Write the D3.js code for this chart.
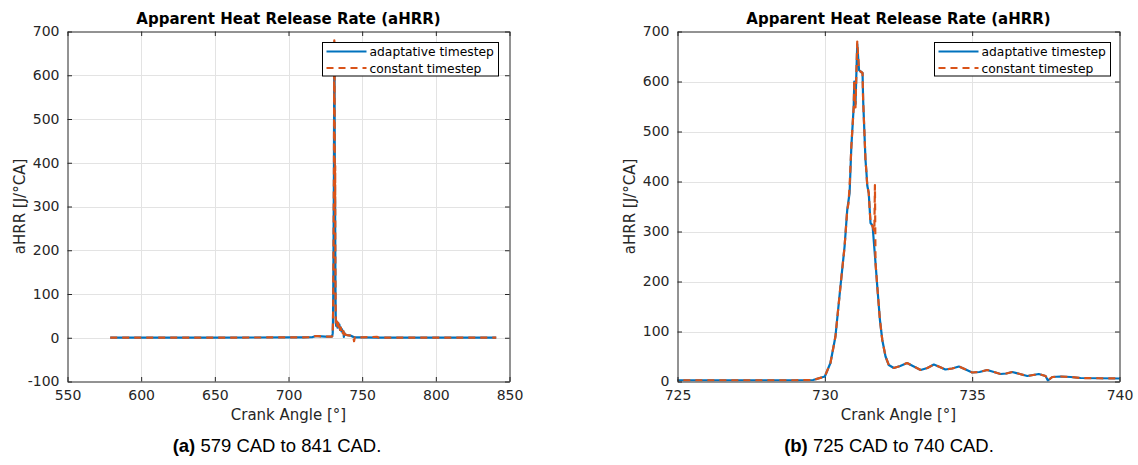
<!DOCTYPE html>
<html>
<head>
<meta charset="utf-8">
<script src="https://cdn.jsdelivr.net/npm/d3@7"></script>
<style>
  html, body { margin: 0; padding: 0; background: #fff; }
  svg { display: block; }
</style>
</head>
<body>
<svg id="chart" width="1138" height="465"></svg>
<script>
// Apparent heat release rate, adaptive timestep run
const adaptiveAngle = [579, 600, 650, 700, 710, 716, 718, 720, 725, 727, 729, 729.6, 730.0, 730.19, 730.36, 730.53, 730.67, 730.76, 730.80, 730.84, 730.90, 730.98, 731.0, 731.04, 731.10, 731.16, 731.21, 731.28, 731.30, 731.38, 731.41, 731.44, 731.49, 731.55, 731.62, 731.72, 731.78, 731.87, 731.95, 732.06, 732.17, 732.34, 732.56, 732.79, 733.02, 733.25, 733.48, 733.70, 733.90, 734.09, 734.32, 734.55, 734.78, 735.0, 735.25, 735.51, 735.74, 735.96, 736.16, 736.36, 736.62, 736.87, 737.07, 737.26, 737.49, 737.57, 737.72, 738.0, 738.34, 738.68, 739.3, 740, 742, 744, 745, 750, 760, 780, 800, 841];
const adaptiveHRR = [0.3, 0.3, 0.3, 0.8, 1, 1.2, 3.5, 3.5, 2.5, 2.5, 2.5, 3, 10, 37, 90, 190, 270, 343, 360, 377, 470, 550, 600, 555, 675, 623, 620, 617, 563, 443, 420, 392, 377, 317, 312, 237, 190, 123, 83, 50, 33, 27, 31, 37, 30, 23, 27, 34, 29, 24, 26, 30, 24, 18, 19, 23, 19, 15, 16, 19, 15, 11, 13, 15, 11, 2, 9, 10, 9, 7, 6.5, 6, 5, 2, 1, 1, 0.5, 0.3, 0.3, 0.3];

// Apparent heat release rate, constant timestep run
const constantAngle = [579, 600, 650, 700, 710, 716, 718, 720, 725, 727, 729, 729.6, 730.0, 730.19, 730.36, 730.53, 730.67, 730.76, 730.80, 730.84, 730.90, 730.98, 731.0, 731.04, 731.10, 731.16, 731.21, 731.28, 731.30, 731.38, 731.41, 731.44, 731.49, 731.55, 731.62, 731.68, 731.70, 731.72, 731.78, 731.87, 731.95, 732.06, 732.17, 732.34, 732.56, 732.79, 733.02, 733.25, 733.48, 733.70, 733.90, 734.09, 734.32, 734.55, 734.78, 735.0, 735.25, 735.51, 735.74, 735.96, 736.16, 736.36, 736.62, 736.87, 737.07, 737.26, 737.49, 737.57, 737.72, 738.0, 738.34, 738.68, 739.3, 740, 742, 744, 744.5, 745, 750, 760, 761, 780, 800, 841];
const constantHRR = [0.3, 0.3, 0.3, 0.8, 1, 1.2, 3.5, 3.5, 2.5, 2.5, 2.5, 3, 10, 37, 90, 190, 270, 343, 355, 390, 470, 550, 603, 548, 680, 623, 620, 617, 563, 443, 420, 392, 377, 317, 310, 300, 393, 237, 190, 123, 83, 50, 33, 27, 31, 37, 30, 23, 27, 34, 29, 24, 26, 30, 24, 18, 19, 23, 19, 15, 16, 19, 15, 11, 13, 15, 11, 2, 9, 10, 9, 7, 6.5, 6, 5, 2, -8, 1, 1, 2, 0.5, 0.3, 0.3, 0.3];

const seriesNames = ["adaptative timestep", "constant timestep"];
const seriesColors = ["#0072BD", "#D95319"];

// Axis ranges and tick values for the two views
const fullTicksX = [550, 600, 650, 700, 750, 800, 850];
const fullTicksY = [-100, 0, 100, 200, 300, 400, 500, 600, 700];
const zoomTicksX = [725, 730, 735, 740];
const zoomTicksY = [0, 100, 200, 300, 400, 500, 600, 700];

const titleText = "Apparent Heat Release Rate (aHRR)";
const xLabelText = "Crank Angle [°]";
const yLabelText = "aHRR [J/°CA]";

const panels = [
  { id: "a", left: 67.5, right: 509.5, xDomain: [550, 850], yDomain: [-100, 700],
    xTicks: fullTicksX, yTicks: fullTicksY, legendX: 322.5,
    captionX: 277, tag: "(a)", caption: " 579 CAD to 841 CAD." },
  { id: "b", left: 677.5, right: 1119.5, xDomain: [725, 740], yDomain: [0, 700],
    xTicks: zoomTicksX, yTicks: zoomTicksY, legendX: 934.5,
    captionX: 889, tag: "(b)", caption: " 725 CAD to 740 CAD." }
];

const plotTop = 31.5, plotBottom = 381.5;
const svg = d3.select("#chart");
const axisColor = "#262626";
const font = "'DejaVu Sans', sans-serif";
const dash = "7,5";

const seriesData = [
  adaptiveAngle.map((a, i) => [a, adaptiveHRR[i]]),
  constantAngle.map((a, i) => [a, constantHRR[i]])
];

panels.forEach(p => {
  const x = d3.scaleLinear().domain(p.xDomain).range([p.left, p.right]);
  const y = d3.scaleLinear().domain(p.yDomain).range([plotBottom, plotTop]);
  const g = svg.append("g");

  // grid
  g.append("g").selectAll("line").data(p.xTicks.slice(1, -1)).join("line")
    .attr("x1", d => Math.round(x(d)) + 0.5).attr("x2", d => Math.round(x(d)) + 0.5)
    .attr("y1", plotTop).attr("y2", plotBottom)
    .attr("stroke", "#e3e3e3").attr("stroke-width", 1);
  g.append("g").selectAll("line").data(p.yTicks.slice(1, -1)).join("line")
    .attr("y1", d => Math.round(y(d)) + 0.5).attr("y2", d => Math.round(y(d)) + 0.5)
    .attr("x1", p.left).attr("x2", p.right)
    .attr("stroke", "#e3e3e3").attr("stroke-width", 1);

  // data lines, clipped to the plot box
  const clipId = "clip-" + p.id;
  svg.append("clipPath").attr("id", clipId).append("rect")
    .attr("x", p.left).attr("y", plotTop).attr("width", p.right - p.left).attr("height", plotBottom - plotTop);
  const line = d3.line().x(d => x(d[0])).y(d => y(d[1]));
  const plot = g.append("g").attr("clip-path", `url(#${clipId})`);
  seriesData.forEach((data, i) => {
    plot.append("path").datum(data)
      .attr("d", line)
      .attr("fill", "none")
      .attr("stroke", seriesColors[i])
      .attr("stroke-width", 2.2)
      .attr("stroke-linejoin", "round")
      .attr("stroke-dasharray", i === 1 ? dash : null);
  });

  // box and inward ticks on all sides
  const tickLen = 4.5;
  const fmt = d => String(d);
  const xAxisB = d3.axisBottom(x).tickValues(p.xTicks).tickSize(-tickLen).tickSizeOuter(0).tickPadding(9).tickFormat(fmt);
  const xAxisT = d3.axisTop(x).tickValues(p.xTicks).tickSize(-tickLen).tickSizeOuter(0).tickFormat("");
  const yAxisL = d3.axisLeft(y).tickValues(p.yTicks).tickSize(-tickLen).tickSizeOuter(0).tickPadding(8).tickFormat(fmt);
  const yAxisR = d3.axisRight(y).tickValues(p.yTicks).tickSize(-tickLen).tickSizeOuter(0).tickFormat("");

  const styleAxis = sel => {
    sel.select(".domain").attr("stroke", axisColor).attr("stroke-width", 1);
    sel.selectAll(".tick line").attr("stroke", axisColor).attr("stroke-width", 1);
    sel.selectAll(".tick text").attr("fill", axisColor)
      .style("font-family", font).style("font-size", "14px");
  };
  g.append("g").attr("transform", `translate(0,${plotBottom})`).call(xAxisB).call(styleAxis);
  g.append("g").attr("transform", `translate(0,${plotTop})`).call(xAxisT).call(styleAxis);
  g.append("g").attr("transform", `translate(${p.left},0)`).call(yAxisL).call(styleAxis);
  g.append("g").attr("transform", `translate(${p.right},0)`).call(yAxisR).call(styleAxis);

  // title and axis labels
  const cx = (p.left + p.right) / 2;
  g.append("text").attr("x", cx).attr("y", 24).attr("text-anchor", "middle")
    .style("font-family", font).style("font-size", "15px").style("font-weight", "bold")
    .attr("fill", "#000").text(titleText);
  g.append("text").attr("x", cx).attr("y", 420).attr("text-anchor", "middle")
    .style("font-family", font).style("font-size", "15px")
    .attr("fill", axisColor).text(xLabelText);
  g.append("text")
    .attr("transform", `translate(${p.left - 43},${(plotTop + plotBottom) / 2}) rotate(-90)`)
    .attr("text-anchor", "middle")
    .style("font-family", font).style("font-size", "15px")
    .attr("fill", axisColor).text(yLabelText);

  // legend
  const lg = g.append("g");
  lg.append("rect").attr("x", p.legendX).attr("y", 42.5).attr("width", 176).attr("height", 33.5)
    .attr("fill", "#fff").attr("stroke", "#000").attr("stroke-width", 1);
  seriesNames.forEach((name, i) => {
    const ly = 51.5 + i * 16.5;
    lg.append("line").attr("x1", p.legendX + 4).attr("x2", p.legendX + 44)
      .attr("y1", ly).attr("y2", ly)
      .attr("stroke", seriesColors[i]).attr("stroke-width", 2.2)
      .attr("stroke-dasharray", i === 1 ? dash : null);
    lg.append("text").attr("x", p.legendX + 47).attr("y", ly + 4.5)
      .style("font-family", font).style("font-size", "12.3px")
      .attr("fill", "#000").text(name);
  });

  // subfigure caption
  const cap = g.append("text").attr("x", p.captionX).attr("y", 452).attr("text-anchor", "middle")
    .style("font-family", "'Liberation Sans', Arial, sans-serif").style("font-size", "18.5px")
    .attr("fill", "#000");
  cap.append("tspan").style("font-weight", "bold").text(p.tag);
  cap.append("tspan").text(p.caption);
});
</script>
</body>
</html>
